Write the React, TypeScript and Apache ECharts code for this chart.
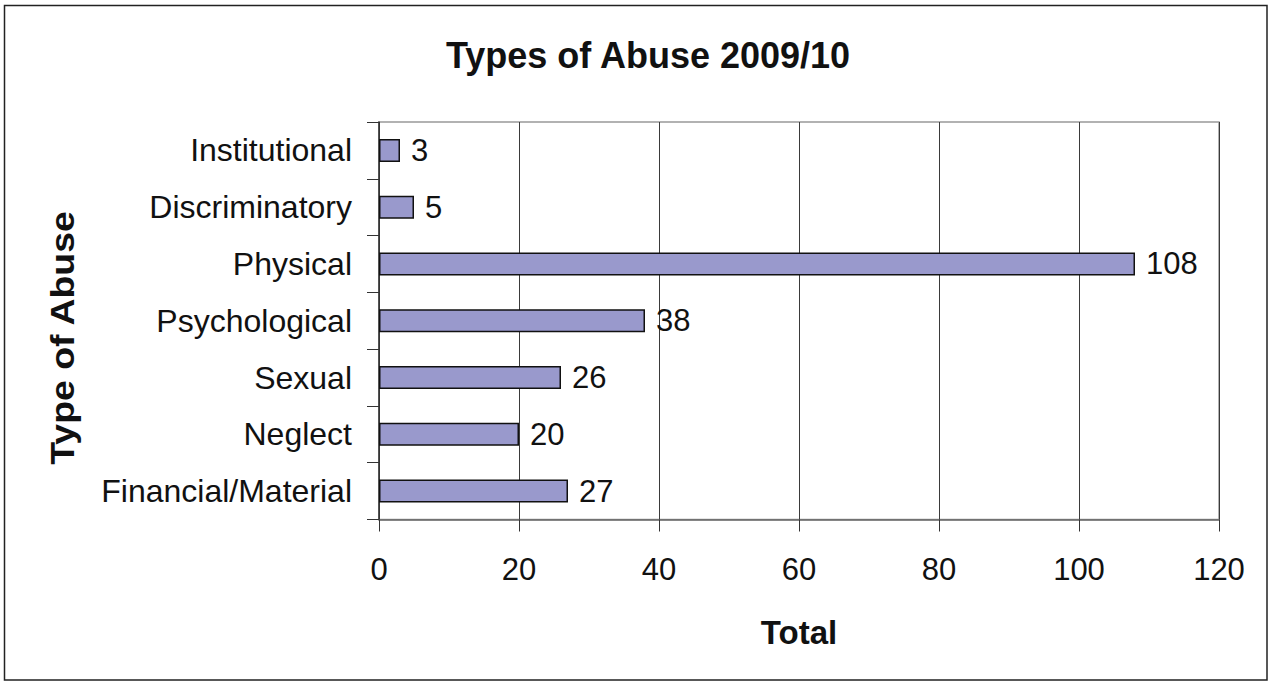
import React, { useEffect, useRef } from "react";
import * as echarts from "echarts";

const categories = [
  "Institutional",
  "Discriminatory",
  "Physical",
  "Psychological",
  "Sexual",
  "Neglect",
  "Financial/Material",
];
const totals = [3, 5, 108, 38, 26, 20, 27];
const xTicks = [0, 20, 40, 60, 80, 100, 120];

const FONT = '"Liberation Sans", Arial, Helvetica, sans-serif';

export default function App() {
  const ref = useRef<HTMLDivElement>(null);
  useEffect(() => {
    document.body.style.margin = "0";
    const chart = echarts.init(ref.current!, null, { renderer: "svg" });
    chart.setOption({
      animation: false,
      backgroundColor: "#ffffff",
      textStyle: { fontFamily: FONT },
      title: {
        text: "Types of Abuse 2009/10",
        left: 643,
        top: 32,
        textAlign: "center",
        textStyle: { fontFamily: FONT, fontSize: 36, fontWeight: "bold", color: "#111" },
      },
      graphic: [
        {
          type: "rect",
          shape: { x: 4.5, y: 5.5, width: 1262.5, height: 674.5 },
          style: { fill: "none", stroke: "#222", lineWidth: 1.5 },
          z: -1,
        },
        {
          type: "text",
          x: 63,
          y: 338,
          rotation: Math.PI / 2,
          scaleX: 1.1,
          style: {
            text: "Type of Abuse",
            font: `bold 34px ${FONT}`,
            fill: "#111",
            textAlign: "center",
            textVerticalAlign: "middle",
          },
        },
      ],
      grid: {
        left: 379,
        top: 122,
        right: 52,
        bottom: 164.5,
        show: true,
        borderColor: "#999",
        borderWidth: 1.5,
        containLabel: false,
      },
      xAxis: {
        type: "value",
        min: xTicks[0],
        max: xTicks[xTicks.length - 1],
        interval: 20,
        name: "Total",
        nameLocation: "middle",
        nameGap: 96,
        nameTextStyle: { fontFamily: FONT, fontSize: 33, fontWeight: "bold", color: "#111" },
        axisLine: { show: true, lineStyle: { color: "#666", width: 1.5 } },
        axisTick: { show: true, length: 12, inside: false, lineStyle: { color: "#333", width: 1 } },
        axisLabel: { fontFamily: FONT, fontSize: 31, color: "#111", margin: 34 },
        splitLine: { show: true, lineStyle: { color: "#3a3a3a", width: 1 } },
      },
      yAxis: {
        type: "category",
        data: categories,
        inverse: true,
        axisLine: { show: true, lineStyle: { color: "#333", width: 1.5 } },
        axisTick: { show: true, length: 12, lineStyle: { color: "#333", width: 1 } },
        axisLabel: { fontFamily: FONT, fontSize: 32, color: "#111", margin: 27 },
        splitLine: { show: false },
      },
      series: [
        {
          type: "bar",
          data: totals,
          barWidth: 23,
          itemStyle: { color: "#9999cc", borderColor: "#111", borderWidth: 1.5 },
          label: {
            show: true,
            position: "right",
            distance: 11,
            fontFamily: FONT,
            fontSize: 31,
            color: "#111",
          },
        },
      ],
    });
    return () => chart.dispose();
  }, []);
  return <div ref={ref} style={{ width: 1271, height: 684 }} />;
}
